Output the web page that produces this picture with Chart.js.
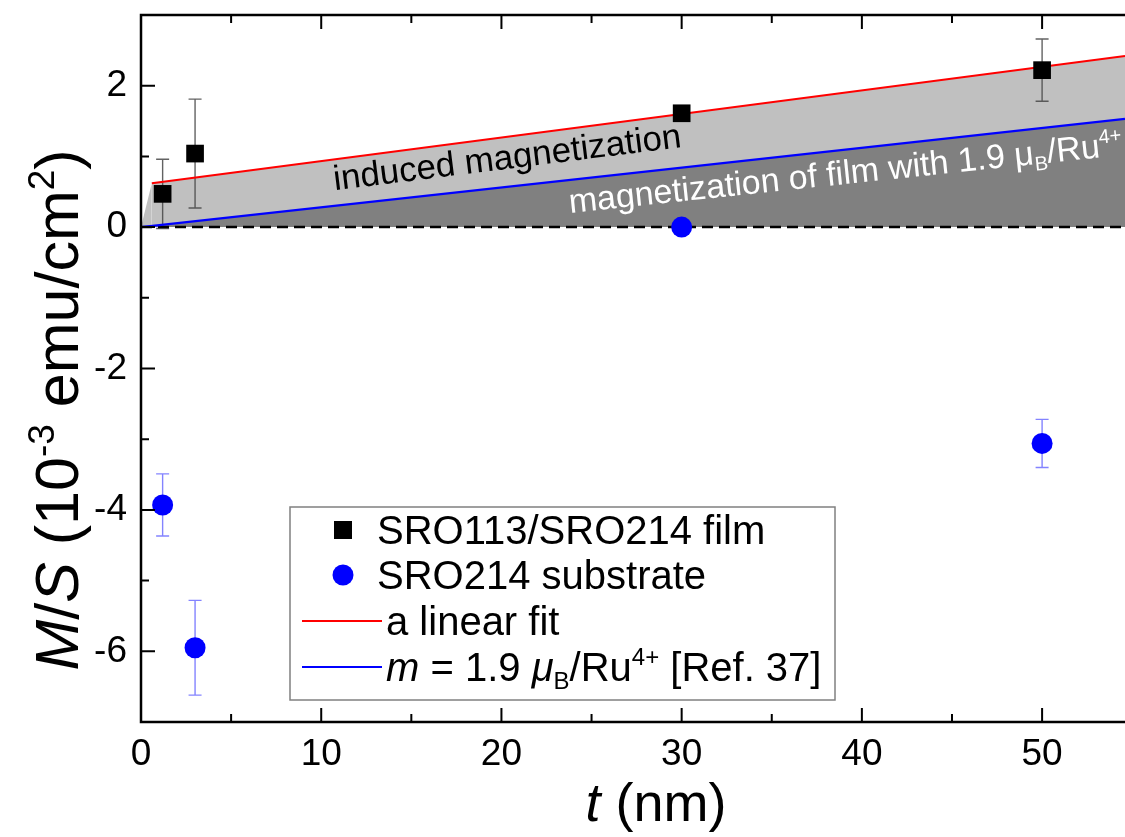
<!DOCTYPE html>
<html>
<head>
<meta charset="utf-8">
<script src="https://cdn.jsdelivr.net/npm/chart.js@4"></script>
<style>
  html, body { margin: 0; padding: 0; background: #fff; }
  #wrap { width: 1125px; height: 837px; }
</style>
</head>
<body>
<div id="wrap"><canvas id="chart" width="1125" height="837"></canvas></div>
<script>
// SRO113/SRO214 film, moment per area (1e-3 emu/cm2) vs thickness (nm)
const filmT = [1.2, 3, 30, 50];
const filmM = [0.47, 1.04, 1.61, 2.22];
const filmErr = [0.49, 0.77, 0, 0.44];

// bare SRO214 substrate
const subT = [1.2, 3, 30, 50];
const subM = [-3.93, -5.95, 0, -3.06];
const subErr = [0.44, 0.67, 0, 0.34];

// linear fit of the film points (first point only closes the shaded band)
const fitT = [0, 0.6, 54.6];
const fitM = [0, 0.62, 2.42];

// film moment for m = 1.9 muB/Ru4+
const refT = [0, 54.6];
const refM = [0, 1.53];

const zeroT = [0, 54.6];
const zeroM = [0, 0];

const xLabels = [0, 10, 20, 30, 40, 50];
const yLabels = [-6, -4, -2, 0, 2];

const FONT = "'Liberation Sans', Arial, Helvetica, sans-serif";
const pts = (xs, ys) => xs.map((x, i) => ({ x, y: ys[i] }));

// draw a run of text pieces: [text, flags] with flags 'i' italic, '^' sup, '_' sub
function richText(ctx, parts, x, y, size, align, color) {
  const fontFor = f => (f.includes('i') ? 'italic ' : '') +
    Math.round((f.includes('^') || f.includes('_')) ? size * 0.6 : size) + 'px ' + FONT;
  let total = 0;
  parts.forEach(([t, f]) => { ctx.font = fontFor(f); total += ctx.measureText(t).width; });
  let cx = align === 'center' ? x - total / 2 : x;
  ctx.fillStyle = color;
  ctx.textAlign = 'left';
  ctx.textBaseline = 'alphabetic';
  parts.forEach(([t, f]) => {
    ctx.font = fontFor(f);
    let dy = 0;
    if (f.includes('^')) dy = -size * 0.4;
    if (f.includes('_')) dy = size * 0.2;
    ctx.fillText(t, cx, y + dy);
    cx += ctx.measureText(t).width;
  });
  return total;
}

const decorations = {
  id: 'decorations',
  beforeDatasetsDraw(chart) {
    // error bars under the markers
    const { ctx, scales: { x, y } } = chart;
    chart.data.datasets.forEach(ds => {
      if (!ds.err) return;
      ctx.save();
      ctx.strokeStyle = ds.errColor;
      ctx.lineWidth = 1.4;
      ds.data.forEach((p, i) => {
        const e = ds.err[i];
        if (!e) return;
        const px = x.getPixelForValue(p.x);
        const top = y.getPixelForValue(p.y + e);
        const bot = y.getPixelForValue(p.y - e);
        ctx.beginPath();
        ctx.moveTo(px, top); ctx.lineTo(px, bot);
        ctx.moveTo(px - 6.5, top); ctx.lineTo(px + 6.5, top);
        ctx.moveTo(px - 6.5, bot); ctx.lineTo(px + 6.5, bot);
        ctx.stroke();
      });
      ctx.restore();
    });
  },
  afterDraw(chart) {
    const { ctx, chartArea: a, scales: { x, y } } = chart;
    ctx.save();

    // frame and inward ticks
    ctx.strokeStyle = '#000';
    ctx.lineWidth = 2.5;
    ctx.beginPath();
    ctx.moveTo(a.right + 2, a.top); ctx.lineTo(a.left, a.top);
    ctx.lineTo(a.left, a.bottom); ctx.lineTo(a.right + 2, a.bottom);
    ctx.stroke();
    ctx.lineWidth = 2;
    ctx.beginPath();
    x.ticks.forEach(t => {
      const px = x.getPixelForValue(t.value);
      const len = xLabels.includes(t.value) ? 14 : 8;
      ctx.moveTo(px, a.bottom); ctx.lineTo(px, a.bottom - len);
      ctx.moveTo(px, a.top); ctx.lineTo(px, a.top + len);
    });
    y.ticks.forEach(t => {
      const py = y.getPixelForValue(t.value);
      const len = yLabels.includes(t.value) ? 14 : 8;
      ctx.moveTo(a.left, py); ctx.lineTo(a.left + len, py);
    });
    ctx.stroke();

    // labels written along the shaded bands
    const band = (parts, t, m, deg, size, color) => {
      ctx.save();
      ctx.translate(x.getPixelForValue(t), y.getPixelForValue(m));
      ctx.rotate(-deg * Math.PI / 180);
      richText(ctx, parts, 0, 0, size, 'left', color);
      ctx.restore();
    };
    band([['induced magnetization', '']], 10.75, 0.52, 7.1, 35, '#000');
    band([['magnetization of film with 1.9 ', ''], ['\u03bc', ''], ['B', '_'], ['/Ru', ''], ['4+', '^']],
      23.8, 0.2, 6, 34, '#fff');

    // legend box
    const lx = 290, ly = 507, lw = 545, lh = 193;
    ctx.fillStyle = '#fff';
    ctx.fillRect(lx, ly, lw, lh);
    ctx.strokeStyle = '#808080';
    ctx.lineWidth = 1.5;
    ctx.strokeRect(lx, ly, lw, lh);
    const rows = [530, 575, 621, 667];
    ctx.fillStyle = '#000';
    ctx.fillRect(343 - 9, rows[0] - 9, 18, 18);
    ctx.fillStyle = '#0000ff';
    ctx.beginPath(); ctx.arc(343, rows[1], 10.5, 0, Math.PI * 2); ctx.fill();
    ctx.lineWidth = 2;
    ctx.strokeStyle = '#ff0000';
    ctx.beginPath(); ctx.moveTo(302, rows[2]); ctx.lineTo(382, rows[2]); ctx.stroke();
    ctx.strokeStyle = '#0000ff';
    ctx.beginPath(); ctx.moveTo(302, rows[3]); ctx.lineTo(382, rows[3]); ctx.stroke();
    richText(ctx, [['SRO113/SRO214 film', '']], 377, rows[0] + 14, 39.5, 'left', '#000');
    richText(ctx, [['SRO214 substrate', '']], 377, rows[1] + 14, 39.5, 'left', '#000');
    richText(ctx, [['a linear fit', '']], 386, rows[2] + 14, 39.5, 'left', '#000');
    richText(ctx, [['m', 'i'], [' = 1.9 ', ''], ['\u03bc', 'i'], ['B', '_'], ['/Ru', ''], ['4+', '^'], [' [Ref. 37]', '']],
      386, rows[3] + 14, 39.5, 'left', '#000');

    // axis titles
    richText(ctx, [['t', 'i'], [' (nm)', '']], 656, 821, 54, 'center', '#000');
    ctx.save();
    ctx.translate(78, 410);
    ctx.rotate(-Math.PI / 2);
    richText(ctx, [['M', 'i'], ['/', ''], ['S', 'i'], [' (10', ''], ['-3', '^'], [' emu/cm', ''], ['2', '^'], [')', '']],
      0, 0, 61, 'center', '#000');
    ctx.restore();

    ctx.restore();
  }
};

const tickFont = { family: FONT, size: 37 };

new Chart(document.getElementById('chart'), {
  type: 'scatter',
  data: {
    datasets: [
      {
        label: 'SRO113/SRO214 film',
        data: pts(filmT, filmM),
        pointStyle: 'rect',
        pointRadius: 12.5,
        backgroundColor: '#000',
        borderWidth: 0,
        err: filmErr,
        errColor: 'rgba(70,70,70,0.85)'
      },
      {
        label: 'SRO214 substrate',
        data: pts(subT, subM),
        pointStyle: 'circle',
        pointRadius: 10.5,
        backgroundColor: '#0000ff',
        borderWidth: 0,
        err: subErr,
        errColor: 'rgba(100,100,255,0.8)'
      },
      {
        label: 'a linear fit',
        type: 'line',
        data: pts(fitT, fitM),
        borderColor: '#ff0000',
        borderWidth: 2.2,
        pointRadius: 0,
        segment: { borderColor: c => c.p0DataIndex === 0 ? 'rgba(0,0,0,0)' : '#ff0000' },
        fill: { target: 3, above: '#c0c0c0', below: '#c0c0c0' }
      },
      {
        label: 'm = 1.9 muB/Ru4+',
        type: 'line',
        data: pts(refT, refM),
        borderColor: '#0000ff',
        borderWidth: 2.2,
        pointRadius: 0,
        fill: { value: 0, above: '#808080', below: '#808080' }
      },
      {
        label: 'zero',
        type: 'line',
        data: pts(zeroT, zeroM),
        borderColor: '#000',
        borderWidth: 2.5,
        borderDash: [11, 6],
        pointRadius: 0,
        fill: false
      }
    ]
  },
  options: {
    responsive: false,
    animation: false,
    layout: { autoPadding: false, padding: { top: 15, right: 0, left: 0, bottom: 0 } },
    plugins: {
      legend: { display: false },
      tooltip: { enabled: false },
      filler: { drawTime: 'beforeDatasetsDraw' }
    },
    scales: {
      x: {
        type: 'linear',
        min: 0,
        max: 54.6,
        grid: { display: false },
        border: { display: false },
        ticks: {
          stepSize: 5,
          includeBounds: false,
          autoSkip: false,
          maxRotation: 0,
          padding: 3,
          color: '#000',
          font: tickFont,
          callback: v => xLabels.includes(v) ? String(v) : ''
        },
        afterFit: s => { s.height = 115; s.paddingLeft = 0; s.paddingRight = 0; }
      },
      y: {
        min: -7,
        max: 3,
        grid: { display: false },
        border: { display: false },
        ticks: {
          stepSize: 1,
          includeBounds: false,
          autoSkip: false,
          padding: 6,
          color: '#000',
          font: tickFont,
          callback: v => yLabels.includes(v) ? String(v) : ''
        },
        afterFit: s => { s.width = 141; s.paddingTop = 0; s.paddingBottom = 0; }
      }
    }
  },
  plugins: [decorations]
});
</script>
</body>
</html>
